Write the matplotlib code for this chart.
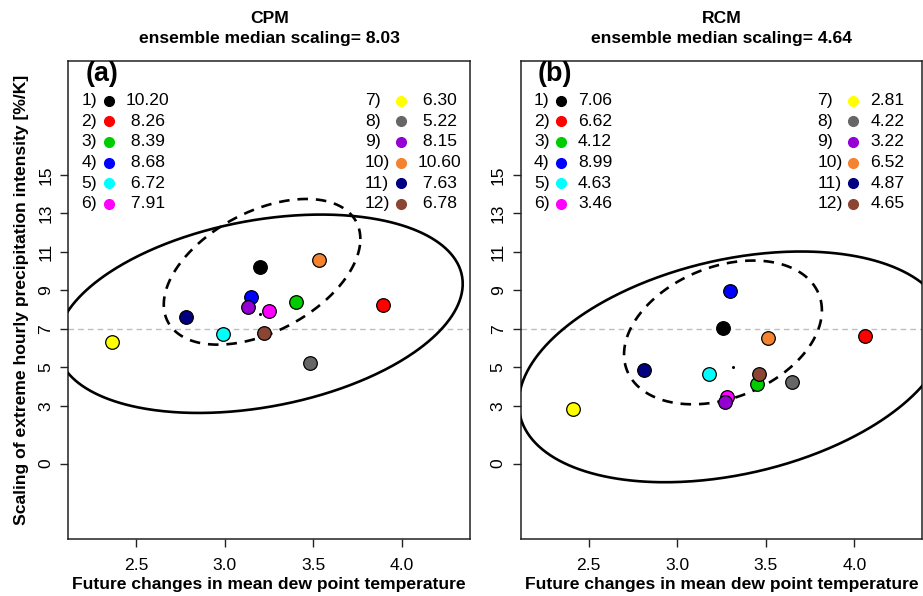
import numpy as np
import matplotlib
matplotlib.use("Agg")
import matplotlib.pyplot as plt

plt.rcParams['font.family'] = ['Liberation Sans', 'DejaVu Sans']

# ---------------- data ----------------
model_labels = ["1)", "2)", "3)", "4)", "5)", "6)", "7)", "8)", "9)", "10)", "11)", "12)"]
model_colors = ["#000000", "#FF0000", "#00CD00", "#0000FF", "#00FFFF", "#FF00FF",
                "#FFFF00", "#666666", "#9400D3", "#F5822F", "#000080", "#8B4532"]

cpm_dewpoint = [3.20, 3.89, 3.40, 3.15, 2.99, 3.25, 2.36, 3.48, 3.13, 3.53, 2.78, 3.22]
cpm_scaling = [10.20, 8.26, 8.39, 8.68, 6.72, 7.91, 6.30, 5.22, 8.15, 10.60, 7.63, 6.78]
rcm_dewpoint = [3.26, 4.06, 3.45, 3.30, 3.18, 3.28, 2.41, 3.65, 3.27, 3.51, 2.81, 3.46]
rcm_scaling = [7.06, 6.62, 4.12, 8.99, 4.63, 3.46, 2.81, 4.22, 3.22, 6.52, 4.87, 4.65]

panel_titles = ["CPM", "RCM"]
ensemble_median = [8.03, 4.64]
panel_tags = ["(a)", "(b)"]

# ellipses: centre and shape (covariance-like) matrix, in data units
cpm_solid_center = [3.197, 7.785]
cpm_solid_shape = [[1.313, 1.782], [1.782, 26.57]]
cpm_dashed_center = [3.21, 9.965]
cpm_dashed_shape = [[0.308, 0.946], [0.946, 14.33]]
rcm_solid_center = [3.3145, 5.025]
rcm_solid_shape = [[1.464, 2.30], [2.30, 35.94]]
rcm_dashed_center = [3.258, 6.815]
rcm_dashed_shape = [[0.312, 0.64], [0.64, 13.95]]

x_ticks = [2.5, 3.0, 3.5, 4.0]
y_ticks = [0, 3, 5, 7, 9, 11, 13, 15]
x_range = (2.2, 4.3)
y_range = (-3, 20)
ref_line = 7

# ---------------- figure ----------------
W, H = 923, 596
fig = plt.figure(figsize=(W / 100, H / 100), dpi=100)
FS = 12.6

def rng(lo, hi):
    d = (hi - lo) * 0.04
    return lo - d, hi + d

def ellipse(ax, center, shape, **kw):
    t = np.linspace(0, 2 * np.pi, 500)
    L = np.linalg.cholesky(np.array(shape))
    pts = np.array(center)[:, None] + L @ np.vstack([np.cos(t), np.sin(t)])
    ax.plot(pts[0], pts[1], color="black", zorder=3, **kw)

def fmt_vals(vals):
    s = ["%.2f" % v for v in vals]
    w = max(len(x) for x in s)
    return [x.rjust(w) for x in s]

panels = [
    (cpm_dewpoint, cpm_scaling, cpm_solid_center, cpm_solid_shape, cpm_dashed_center, cpm_dashed_shape),
    (rcm_dewpoint, rcm_scaling, rcm_solid_center, rcm_solid_shape, rcm_dashed_center, rcm_dashed_shape),
]
lefts = [68.3, 520.7]
ax_w = 401.7
ax_top, ax_bot = 61, 539

for k, (xs, ys, sc, ss, dc, ds) in enumerate(panels):
    ax = fig.add_axes([lefts[k] / W, 1 - ax_bot / H, ax_w / W, (ax_bot - ax_top) / H])
    ax.set_xlim(*rng(*x_range))
    ax.set_ylim(*rng(*y_range))
    ax.axhline(ref_line, color="#BEBEBE", lw=1.0, ls=(0, (4, 3)), zorder=1)
    ellipse(ax, sc, ss, lw=1.9, solid_capstyle="butt")
    ellipse(ax, dc, ds, lw=1.9, ls=(0, (4, 3)))
    ax.plot([sc[0]], [sc[1]], marker="o", ms=1.2, color="black", ls="none", zorder=3)
    for i in range(len(xs)):
        ax.plot(xs[i], ys[i], marker="o", ms=9.8, mfc=model_colors[i], mec="black",
                mew=0.9, ls="none", zorder=4)
    ax.set_xticks(x_ticks)
    ax.set_xticklabels(["%.1f" % v for v in x_ticks], fontsize=FS)
    ax.set_yticks(y_ticks)
    ax.set_yticklabels([str(v) for v in y_ticks], fontsize=FS, rotation=90, va="center")
    ax.tick_params(axis="both", direction="out", length=5.8, width=1.0, color="#222222")
    ax.tick_params(axis="x", pad=8)
    ax.tick_params(axis="y", pad=5)
    for sp in ax.spines.values():
        sp.set_linewidth(1.1)
        sp.set_color("#222222")
    ax.set_xlabel("Future changes in mean dew point temperature", fontsize=FS, fontweight="bold",
                  labelpad=3)
    if k == 0:
        ax.set_ylabel("Scaling of extreme hourly precipitation intensity [%/K]", fontsize=FS,
                      fontweight="bold", labelpad=7)
    # titles
    ax.text(0.5, 1 + (ax_top - 18.6) / (ax_bot - ax_top), panel_titles[k], transform=ax.transAxes,
            ha="center", va="center", fontsize=FS, fontweight="bold")
    ax.text(0.5, 1 + (ax_top - 38.5) / (ax_bot - ax_top),
            "ensemble median scaling= %.2f" % ensemble_median[k], transform=ax.transAxes,
            ha="center", va="center", fontsize=FS, fontweight="bold")
    # panel tag
    ax.text(17.0 / ax_w, 1 - 13 / (ax_bot - ax_top), panel_tags[k], transform=ax.transAxes,
            ha="left", va="center", fontsize=19.4, fontweight="bold")
    # legend
    vals = fmt_vals(ys)
    h = ax_bot - ax_top
    for i in range(len(xs)):
        col = i // 6
        row = i % 6
        yy = 1 - (39.5 + 20.7 * row) / h
        lab_x = [13.2, 296.8][col] / ax_w
        dot_x = [40.5, 332.4][col] / ax_w
        val_x = [57.2, 349.8][col] / ax_w
        ax.text(lab_x, yy, model_labels[i], transform=ax.transAxes, ha="left", va="center",
                fontsize=FS)
        ax.plot([dot_x], [yy], transform=ax.transAxes, marker="o", ms=7, color=model_colors[i],
                ls="none", clip_on=False)
        ax.text(val_x, yy, vals[i], transform=ax.transAxes, ha="left", va="center", fontsize=FS)

fig.savefig("out.png", dpi=100)
